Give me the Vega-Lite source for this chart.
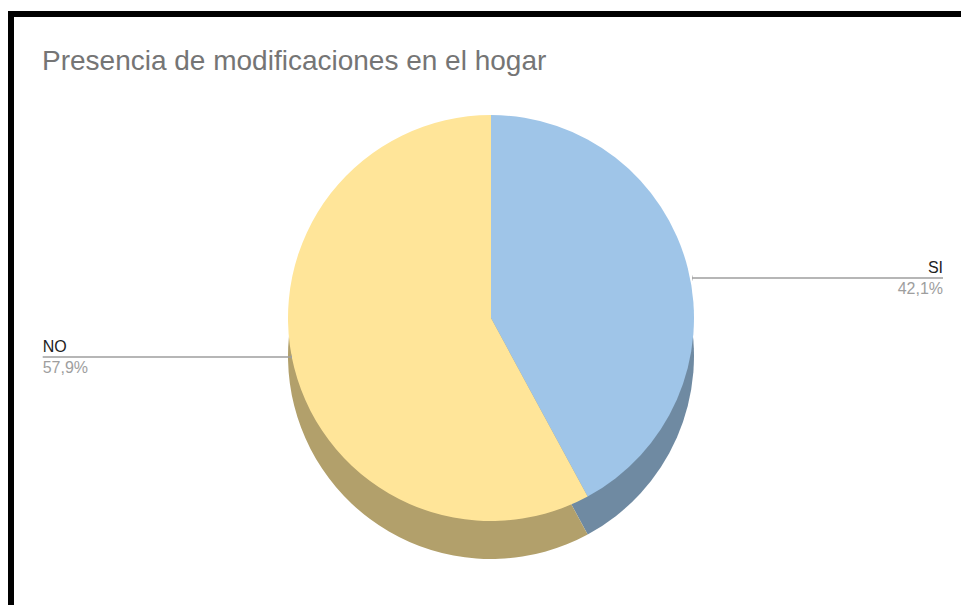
{
  "$schema": "https://vega.github.io/schema/vega-lite/v6.json",
  "width": 960,
  "height": 608,
  "autosize": {"type": "none"},
  "padding": {"left": 11, "top": 14, "right": -10, "bottom": -17},
  "background": "white",
  "config": {
    "style": {"view": {"stroke": "#000000", "strokeWidth": 6, "fill": "white", "strokeDash": [950, 1541, 3000]}},
    "font": "Liberation Sans",
    "locale": {"number": {"decimal": ",", "thousands": ".", "grouping": [3], "currency": ["", " €"]}}
  },
  "title": {
    "text": "Presencia de modificaciones en el hogar",
    "anchor": "start",
    "frame": "group",
    "orient": "top",
    "offset": -84,
    "dx": 31,
    "fontSize": 28,
    "fontWeight": "normal",
    "color": "#757575",
    "font": "Liberation Sans",
    "baseline": "alphabetic"
  },
  "data": {
    "values": [
      {"respuesta": "SI", "proporcion": 0.421, "orden": 1},
      {"respuesta": "NO", "proporcion": 0.579, "orden": 2}
    ]
  },
  "layer": [
    {
      "mark": {"type": "arc", "radius": 203, "yOffset": 38},
      "encoding": {
        "theta": {"field": "proporcion", "type": "quantitative", "stack": true},
        "order": {"field": "orden", "type": "quantitative"},
        "fill": {"field": "respuesta", "type": "nominal", "scale": {"domain": ["SI", "NO"], "range": ["#6f8aa2", "#b2a06b"]}, "legend": null}
      }
    },
    {
      "mark": {"type": "arc", "radius": 203},
      "encoding": {
        "theta": {"field": "proporcion", "type": "quantitative", "stack": true},
        "order": {"field": "orden", "type": "quantitative"},
        "color": {"field": "respuesta", "type": "nominal", "scale": {"domain": ["SI", "NO"], "range": ["#9fc5e8", "#ffe599"]}, "legend": null}
      }
    },
    {
      "transform": [{"filter": "datum.respuesta === 'SI'"}],
      "mark": {"type": "arc", "theta": 1.5708, "theta2": 1.5708, "radius": 452, "radius2": 201, "yOffset": -40, "fill": "#9e9e9e", "stroke": "#9e9e9e", "strokeWidth": 1.5},
      "encoding": {}
    },
    {
      "transform": [{"filter": "datum.respuesta === 'SI'"}],
      "mark": {"type": "arc", "theta": 1.5708, "theta2": 1.5708, "radius": 201.5, "radius2": 201, "yOffset": -40, "fill": "#9e9e9e", "stroke": "#9e9e9e", "strokeWidth": 5, "strokeCap": "round"},
      "encoding": {}
    },
    {
      "transform": [{"filter": "datum.respuesta === 'NO'"}],
      "mark": {"type": "arc", "theta": 4.7124, "theta2": 4.7124, "radius": 448.3, "radius2": 199, "yOffset": 39, "fill": "#9e9e9e", "stroke": "#9e9e9e", "strokeWidth": 1.5},
      "encoding": {}
    },
    {
      "transform": [{"filter": "datum.respuesta === 'NO'"}],
      "mark": {"type": "arc", "theta": 4.7124, "theta2": 4.7124, "radius": 199.5, "radius2": 199, "yOffset": 39, "fill": "#9e9e9e", "stroke": "#9e9e9e", "strokeWidth": 5, "strokeCap": "round"},
      "encoding": {}
    },
    {
      "mark": {"type": "text", "radius": 466.3, "align": "right", "baseline": "alphabetic", "dy": 69.5, "fontSize": 16, "color": "#222222"},
      "encoding": {
        "theta": {"field": "proporcion", "type": "quantitative", "stack": true},
        "order": {"field": "orden", "type": "quantitative"},
        "text": {"condition": {"test": "datum.respuesta === 'SI'", "field": "respuesta", "type": "nominal"}, "value": ""}
      }
    },
    {
      "mark": {"type": "text", "radius": 466.3, "align": "right", "baseline": "alphabetic", "dy": 90.5, "fontSize": 16, "color": "#9e9e9e"},
      "encoding": {
        "theta": {"field": "proporcion", "type": "quantitative", "stack": true},
        "order": {"field": "orden", "type": "quantitative"},
        "text": {"condition": {"test": "datum.respuesta === 'SI'", "field": "proporcion", "type": "quantitative", "format": ".1%"}, "value": ""}
      }
    },
    {
      "mark": {"type": "text", "radius": 462.5, "align": "left", "baseline": "alphabetic", "dy": -79.6, "fontSize": 16, "color": "#222222"},
      "encoding": {
        "theta": {"field": "proporcion", "type": "quantitative", "stack": true},
        "order": {"field": "orden", "type": "quantitative"},
        "text": {"condition": {"test": "datum.respuesta === 'NO'", "field": "respuesta", "type": "nominal"}, "value": ""}
      }
    },
    {
      "mark": {"type": "text", "radius": 462.5, "align": "left", "baseline": "alphabetic", "dy": -58.6, "fontSize": 16, "color": "#9e9e9e"},
      "encoding": {
        "theta": {"field": "proporcion", "type": "quantitative", "stack": true},
        "order": {"field": "orden", "type": "quantitative"},
        "text": {"condition": {"test": "datum.respuesta === 'NO'", "field": "proporcion", "type": "quantitative", "format": ".1%"}, "value": ""}
      }
    }
  ]
}
